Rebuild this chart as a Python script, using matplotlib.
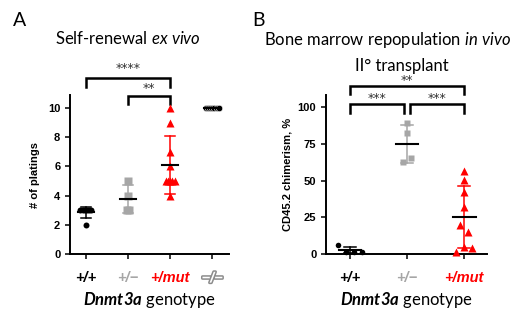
import numpy as np
import matplotlib
matplotlib.use("Agg")
import matplotlib.pyplot as plt
import matplotlib.patheffects as pe

plt.rcParams["mathtext.fontset"] = "custom"
plt.rcParams["mathtext.rm"] = "Lato"
plt.rcParams["mathtext.it"] = "Lato:italic"
plt.rcParams["mathtext.bfit"] = "Lato:bold:italic"

# Panel A - self-renewal ex vivo (# of platings)
labels_a = ["+/+", "+/−", "+/mut", "−/−"]
wt_a = [3, 3, 3, 3, 3, 3, 2]
het_a = [5, 4, 3, 3]
mut_a = [10, 9, 7, 6, 5, 5, 5, 5, 5, 4]
ko_a = [10, 10, 10, 10, 10, 10, 10]

# Panel B - II transplant, CD45.2 chimerism %
labels_b = ["+/+", "+/−", "+/mut"]
wt_b = [6.0, 1.5, 1.5, 1.5]
het_b = [89.5, 82.7, 62.5, 65.4]
mut_b = [56.6, 50.4, 42.4, 32.3, 19.5, 14.9, 1.4, 5.0, 3.9]

BLACK = "black"
GRAY = "#a6a6a6"
RED = "#ff0000"


def spread(vals, thresh, step):
    # points closer than thresh are put side by side (in list order)
    vals = np.asarray(vals, dtype=float)
    order = np.argsort(vals, kind="stable")
    offs = np.zeros(len(vals))
    start = 0
    for i in range(1, len(order) + 1):
        if i == len(order) or vals[order[i]] - vals[order[i - 1]] > thresh:
            idx = np.sort(order[start:i])
            n = len(idx)
            offs[idx] = (np.arange(n) - (n - 1) / 2) * step
            start = i
    return vals, offs


def draw_group(ax, x, vals, color, marker, ms, thresh, step, mean_w, cap_w, ec="none"):
    v, off = spread(vals, thresh, step)
    ax.plot(x + off, v, linestyle="none", marker=marker, ms=ms, color=color,
            markeredgecolor=ec, markeredgewidth=0.4, zorder=3, clip_on=False)
    m = np.mean(v)
    sd = np.std(v, ddof=1)
    if sd > 0:
        ax.plot([x, x], [m - sd, m + sd], color=color, lw=1.1, zorder=4)
        for y in (m - sd, m + sd):
            ax.plot([x - cap_w, x + cap_w], [y, y], color=color, lw=1.1, zorder=4)
    ax.plot([x - mean_w, x + mean_w], [m, m], color=BLACK, lw=1.5, zorder=5)


def bracket(ax, x1, x2, y_top, y_bot, stars, y_txt):
    ax.plot([x1, x1, x2, x2], [y_bot, y_top, y_top, y_bot], color=BLACK, lw=1.8,
            clip_on=False, solid_joinstyle="miter")
    ax.text((x1 + x2) / 2, y_txt, stars, ha="center", va="center", fontsize=9,
            family="DejaVu Sans", color="#333333")


def style_axis(ax):
    for s in ("top", "right"):
        ax.spines[s].set_visible(False)
    for s in ("left", "bottom"):
        ax.spines[s].set_linewidth(1.4)
    ax.tick_params(length=3.5, width=1.1, direction="out")
    ax.tick_params(axis="x", pad=9)
    for t in ax.get_yticklabels():
        t.set_family("Liberation Sans")
        t.set_fontweight("bold")
        t.set_fontsize(8)


fig = plt.figure(figsize=(5.2, 3.2), dpi=100)

# ---------- panel A ----------
axA = fig.add_axes([70 / 520, 66 / 320, 159 / 520, 159 / 320])
axA.set_xlim(-0.38, 3.40)
axA.set_ylim(0, 10.9)
axA.set_yticks([0, 2, 4, 6, 8, 10])
stepA = 2.2 / 42
draw_group(axA, 0, wt_a, BLACK, "o", 4.3, 0.01, stepA, 0.19, 0.11)
draw_group(axA, 1, het_a, GRAY, "s", 6.2, 0.01, stepA, 0.19, 0.11)
draw_group(axA, 2, mut_a, RED, "^", 6.0, 0.01, stepA, 0.19, 0.11)
draw_group(axA, 3, ko_a, BLACK, "o", 4.6, 0.01, stepA, 0.19, 0.11, ec="white")
axA.set_xticks(range(len(labels_a)))
axA.set_xticklabels(labels_a)
style_axis(axA)
axA.set_ylabel("# of platings", family="Liberation Sans", fontweight="bold",
               fontsize=8, labelpad=6)
for t, c in zip(axA.get_xticklabels(), [BLACK, GRAY, RED, "white"]):
    t.set_color(c)
    t.set_family("Liberation Sans")
    t.set_fontweight("bold")
    t.set_fontstyle("italic")
    t.set_fontsize(10.5)
ko_lbl = axA.get_xticklabels()[3]
ko_lbl.set_path_effects([pe.Stroke(linewidth=2.2, foreground="#8c8c8c"), pe.Normal()])
axA.set_xlabel(r"$\mathbfit{Dnmt3a}$ genotype", family="Lato", fontsize=12, labelpad=3)
bracket(axA, 0, 2, 12.05, 11.44, "****", 12.74)
bracket(axA, 1, 2, 10.82, 10.27, "**", 11.37)

# ---------- panel B ----------
axB = fig.add_axes([326 / 520, 66 / 320, 161 / 520, 159 / 320])
axB.set_xlim(-0.42, 2.40)
axB.set_ylim(0, 108.4)
axB.set_yticks([0, 25, 50, 75, 100])
stepB = 8 / 57.2
draw_group(axB, 0, wt_b, BLACK, "o", 4.0, 5.0, stepB, 0.2, 0.1)
draw_group(axB, 1, het_b, GRAY, "s", 4.4, 5.0, stepB, 0.2, 0.1)
draw_group(axB, 2, mut_b, RED, "^", 5.2, 5.0, stepB, 0.2, 0.1)
axB.set_xticks(range(len(labels_b)))
axB.set_xticklabels(labels_b)
style_axis(axB)
axB.set_ylabel("CD45.2 chimerism, %", family="Liberation Sans", fontweight="bold",
               fontsize=8, labelpad=4)
for t, c in zip(axB.get_xticklabels(), [BLACK, GRAY, RED]):
    t.set_color(c)
    t.set_family("Liberation Sans")
    t.set_fontweight("bold")
    t.set_fontstyle("italic")
    t.set_fontsize(10.5)
axB.set_xlabel(r"$\mathbfit{Dnmt3a}$ genotype", family="Lato", fontsize=12, labelpad=3)
bracket(axB, 0, 2, 114.5, 109.1, "**", 118.6)
bracket(axB, 0, 0.95, 102.2, 96.1, "***", 106.3)
bracket(axB, 1.05, 2, 102.2, 96.1, "***", 106.3)

# titles and panel letters
fig.text(13 / 520, 1 - 21 / 320, "A", family="Lato", fontsize=14, va="center")
fig.text(252 / 520, 1 - 21 / 320, "B", family="Lato", fontsize=14, va="center")
fig.text(128 / 520, 1 - 38 / 320, r"Self-renewal $\mathit{ex\ vivo}$", family="Lato",
         fontsize=12, ha="center", va="center")
fig.text(388 / 520, 1 - 40 / 320, r"Bone marrow repopulation $\mathit{in\ vivo}$",
         family="Lato", fontsize=12, ha="center", va="center")
fig.text(402 / 520, 1 - 66 / 320, "II° transplant", family="Lato", fontsize=12,
         ha="center", va="center")

fig.savefig("out.png", dpi=100)
